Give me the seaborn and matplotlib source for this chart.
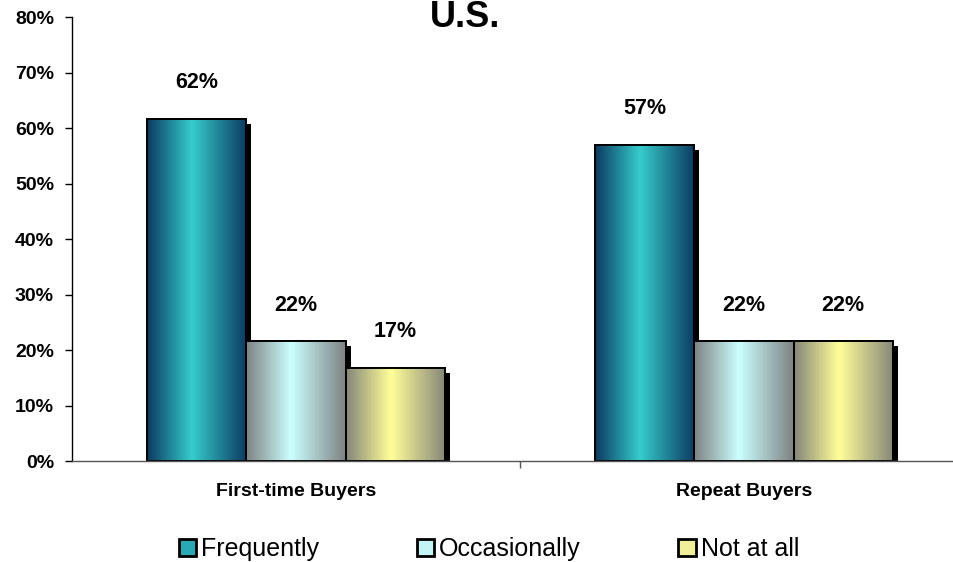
import numpy as np
import pandas as pd
import matplotlib
matplotlib.use("Agg")
import matplotlib.pyplot as plt
import seaborn as sns
from matplotlib import patheffects as pe
from matplotlib.colors import LinearSegmentedColormap
from matplotlib.patches import Rectangle, Patch
from matplotlib.ticker import PercentFormatter

# Datos
groups = ["First-time Buyers", "Repeat Buyers"]
answers = ["Frequently", "Occasionally", "Not at all"]
frequently = [0.617, 0.570]
occasionally = [0.216, 0.216]
not_at_all = [0.168, 0.216]

# colores del degradado (borde / centro) y de la leyenda
edge_colors = ["#0d3a62", "#7e8282", "#86867a"]
mid_colors = ["#35cccc", "#ccffff", "#ffff99"]
legend_colors = ["#2aa8b4", "#c4f4f4", "#f0f09a"]

df = pd.DataFrame({
    "group": groups * 3,
    "answer": np.repeat(answers, len(groups)),
    "share": frequently + occasionally + not_at_all,
})

sns.set_style("white")
plt.rcParams["font.family"] = ["Liberation Sans", "DejaVu Sans"]
plt.rcParams["text.color"] = "black"
plt.rcParams["xtick.color"] = "black"
plt.rcParams["ytick.color"] = "black"

fig = plt.figure(figsize=(9.54, 5.62), dpi=100)
ax = fig.add_axes([0.0755, 0.1797, 0.939, 0.790])

sns.barplot(data=df, x="group", y="share", hue="answer", order=groups,
            hue_order=answers, width=0.665, palette=mid_colors, saturation=1,
            errorbar=None, legend=False, edgecolor="black", linewidth=1.4, ax=ax)

# Degradado horizontal + sombra en cada barra
grad = np.linspace(0, 1, 256).reshape(1, -1)
for k, cont in enumerate(ax.containers):
    cmap = LinearSegmentedColormap.from_list(
        answers[k], [(0, edge_colors[k]), (0.45, mid_colors[k]), (1, edge_colors[k])])
    for bar in cont:
        z = 2 + k * 0.1
        bar.set_zorder(z)
        bar.set_path_effects([pe.SimplePatchShadow(offset=(3.6, -3.6), shadow_rgbFace="black", alpha=1.0),
                              pe.Normal()])
        x0, y0 = bar.get_x(), bar.get_y()
        w, h = bar.get_width(), bar.get_height()
        img = ax.imshow(grad, cmap=cmap, extent=[x0, x0 + w, y0, y0 + h], aspect="auto",
                        interpolation="bilinear", zorder=z + 0.01)
        img.set_clip_path(bar)
        ax.add_patch(Rectangle((x0, y0), w, h, fill=False, edgecolor="black",
                               linewidth=1.4, zorder=z + 0.02))
        ax.annotate(f"{h * 100:.0f}%", (x0 + w / 2, h), xytext=(0, 26),
                    textcoords="offset points", ha="center", va="center",
                    fontsize=15.5, fontweight="bold", color="black")

ax.set_xlim(-0.5, 1.5)
ax.set_ylim(0, 0.8)
ax.set_yticks(np.arange(0, 0.81, 0.1))
ax.yaxis.set_major_formatter(PercentFormatter(1.0, decimals=0))
ax.tick_params(axis="y", left=True, direction="out", length=5, width=1, pad=8,
               labelsize=14, labelcolor="black")
for lab in ax.get_yticklabels():
    lab.set_fontweight("bold")
ax.tick_params(axis="x", which="major", bottom=False, length=0, pad=16,
               labelsize=14, labelcolor="black")
for lab in ax.get_xticklabels():
    lab.set_fontweight("bold")
ax.set_xticks([0.5], minor=True)
ax.tick_params(axis="x", which="minor", bottom=True, direction="out", length=5, width=1, color="#555555")
ax.set_xlabel("")
ax.set_ylabel("")
sns.despine(ax=ax)
ax.spines["left"].set_color("black")
ax.spines["bottom"].set_color("#555555")
ax.spines["left"].set_linewidth(1)
ax.spines["bottom"].set_linewidth(1)

fig.text(465 / 954, 1 - 27 / 562, "U.S.", ha="center", va="baseline",
         fontsize=26, fontweight="bold", color="black")

handles = [Patch(facecolor=c, edgecolor="black", linewidth=2) for c in legend_colors]
fig.legend(handles, answers, loc="center", bbox_to_anchor=(489 / 954, 1 - 549 / 562),
           ncol=3, frameon=False, fontsize=18, handlelength=0.7, handleheight=0.7,
           handletextpad=0.2, columnspacing=3.9, labelcolor="black")

fig.savefig("out.png", dpi=100)
plt.close()
